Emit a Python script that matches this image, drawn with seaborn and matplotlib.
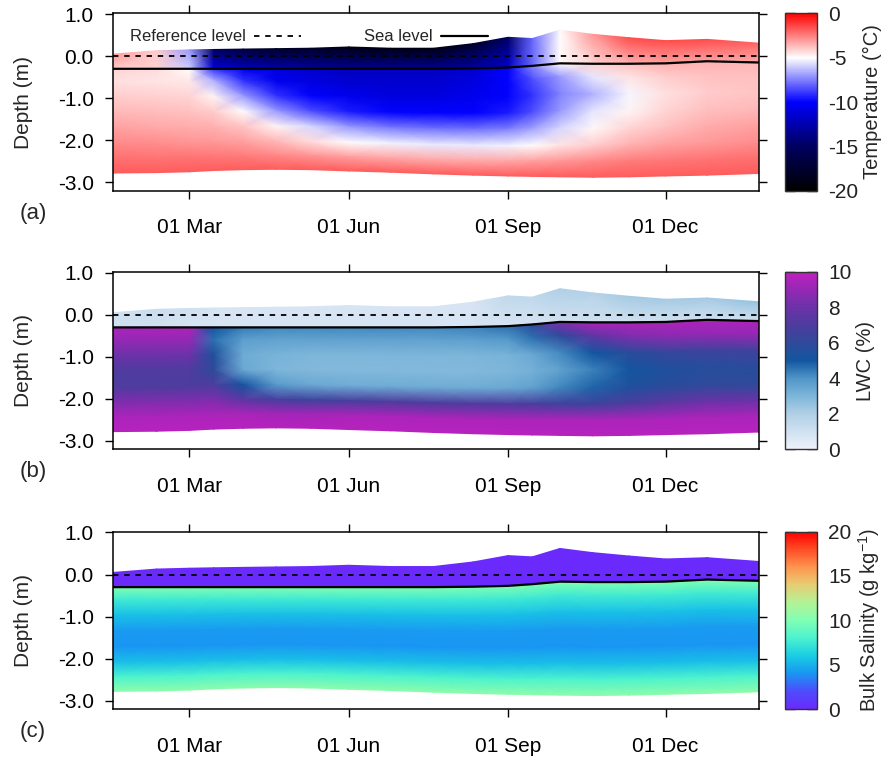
import numpy as np
import pandas as pd
import matplotlib
matplotlib.use('Agg')
import matplotlib.pyplot as plt
import matplotlib.dates as mdates
from matplotlib.colors import LinearSegmentedColormap
import seaborn as sns

# dates of the model columns
field_dates = ['2018-01-16', '2018-02-10', '2018-03-01', '2018-03-15', '2018-04-01',
               '2018-04-20', '2018-05-10', '2018-06-01', '2018-06-25', '2018-07-20',
               '2018-08-12', '2018-09-01', '2018-09-15', '2018-10-01', '2018-10-20',
               '2018-11-10', '2018-12-01', '2018-12-25', '2019-01-24']

# boundaries (m)
snow_top = [0.05, 0.13, 0.15, 0.16, 0.17, 0.18, 0.19, 0.22, 0.19, 0.19,
            0.30, 0.45, 0.42, 0.62, 0.52, 0.44, 0.37, 0.40, 0.31]
sea_level = [-0.30, -0.30, -0.30, -0.30, -0.30, -0.30, -0.30, -0.30, -0.30, -0.30,
             -0.29, -0.27, -0.23, -0.17, -0.18, -0.18, -0.17, -0.12, -0.15]
ice_bottom = [-2.78, -2.77, -2.75, -2.72, -2.70, -2.69, -2.70, -2.73, -2.76, -2.80,
              -2.83, -2.85, -2.86, -2.87, -2.88, -2.87, -2.85, -2.83, -2.79]
reference_level = 0.0

# relative position inside the ice (0 = sea level, 1 = ice bottom)
ice_levels = [0.0, 0.12, 0.27, 0.42, 0.57, 0.72, 0.86, 1.0]

# temperature (degC)
temp_snow_surface = [-3.0, -4.0, -7.0, -15, -17, -18, -18, -19, -19, -19,
                     -18, -15, -8, -5, -3, -1.5, -1.5, -1.5, -2.0]
temp_snow_base = [-4.0, -4.2, -6.0, -11, -12, -12.5, -13, -13.5, -13.5, -13.5,
                  -13, -11.5, -8, -5, -4.2, -3.5, -3.2, -3.2, -3.4]
temp_ice = [
    [-4.2, -4.3, -5.0, -9.0, -10.5, -11, -11.5, -12, -12, -12, -11.5, -10, -7.5, -5.0, -4.2, -3.8, -3.5, -3.5, -3.6],
    [-4.4, -4.5, -4.6, -6.5, -9.0, -10.5, -11, -11.5, -11.5, -11.5, -11, -10, -8.5, -7.0, -5.5, -4.5, -4.0, -3.8, -3.8],
    [-4.0, -4.1, -4.2, -4.8, -7.0, -9.0, -10, -10.5, -11, -11, -10.5, -10, -9.0, -7.5, -6.5, -5.2, -4.4, -4.0, -3.9],
    [-3.6, -3.7, -3.8, -4.0, -5.0, -7.0, -8.5, -9.5, -10, -10, -10, -9.5, -8.5, -7.0, -5.5, -4.8, -4.2, -3.8, -3.6],
    [-3.2, -3.3, -3.4, -3.5, -3.9, -4.8, -5.8, -7.0, -7.6, -7.8, -7.8, -7.5, -6.8, -5.8, -4.9, -4.2, -3.8, -3.4, -3.2],
    [-2.7, -2.8, -2.9, -3.0, -3.2, -3.6, -4.3, -5.0, -5.3, -5.4, -5.4, -5.3, -5.0, -4.5, -4.0, -3.5, -3.2, -3.0, -2.8],
    [-2.2, -2.3, -2.3, -2.4, -2.5, -2.7, -2.9, -3.2, -3.3, -3.4, -3.4, -3.3, -3.2, -3.0, -2.7, -2.5, -2.4, -2.3, -2.2],
    [-1.8, -1.8, -1.8, -1.8, -1.8, -1.8, -1.8, -1.8, -1.8, -1.8, -1.8, -1.8, -1.8, -1.8, -1.8, -1.8, -1.8, -1.8, -1.8],
]

# liquid water content (%)
lwc_snow_surface = [1.0, 1.2, 1.0, 0.8, 0.8, 0.8, 0.8, 0.8, 0.8, 0.8,
                    0.8, 1.5, 1.5, 2.0, 1.8, 2.2, 2.2, 2.2, 2.5]
lwc_snow_base = [1.0, 1.0, 0.8, 0.8, 0.8, 0.8, 0.8, 0.8, 0.8, 0.8,
                 0.8, 0.8, 0.8, 1.0, 1.0, 1.0, 1.0, 1.0, 1.0]
lwc_ice = [
    [9.5, 9.5, 9.5, 5.0, 4.4, 4.2, 4.2, 4.2, 4.2, 4.2, 4.3, 4.6, 6.0, 8.5, 9.5, 9.5, 9.5, 9.5, 9.5],
    [9.0, 9.0, 9.0, 4.6, 3.7, 3.6, 3.6, 3.6, 3.6, 3.6, 3.7, 3.9, 4.6, 6.0, 7.5, 8.5, 8.8, 9.0, 9.0],
    [8.0, 8.0, 8.0, 5.5, 3.3, 3.1, 3.0, 3.0, 3.0, 3.0, 3.0, 3.1, 3.4, 4.2, 5.0, 5.8, 6.2, 6.5, 6.5],
    [7.0, 7.0, 7.0, 6.0, 3.4, 3.0, 2.9, 2.9, 2.9, 2.9, 2.9, 3.0, 3.2, 3.6, 4.3, 5.0, 5.5, 5.7, 5.8],
    [7.0, 7.0, 7.0, 7.0, 5.2, 3.8, 3.4, 3.3, 3.3, 3.3, 3.3, 3.4, 3.6, 4.2, 4.8, 5.5, 5.8, 6.0, 6.0],
    [8.5, 8.5, 8.5, 8.5, 7.5, 6.8, 6.5, 6.8, 7.0, 7.0, 7.0, 7.0, 6.8, 6.5, 6.5, 7.0, 7.5, 8.0, 8.0],
    [9.5, 9.5, 9.5, 9.5, 9.5, 9.3, 9.3, 9.5, 9.5, 9.5, 9.5, 9.5, 9.5, 9.5, 9.5, 9.5, 9.5, 9.5, 9.5],
    [9.8, 9.8, 9.8, 9.8, 9.8, 9.8, 9.8, 9.8, 9.8, 9.8, 9.8, 9.8, 9.8, 9.8, 9.8, 9.8, 9.8, 9.8, 9.8],
]

# bulk salinity (g/kg), snow is fresh
salinity_snow = [0.0, 0.0]
salinity_ice_profile = [10.0, 7.5, 5.5, 4.2, 4.0, 5.5, 8.0, 10.5]

tick_dates = ['2018-03-01', '2018-06-01', '2018-09-01', '2018-12-01']
x_start, x_end = '2018-01-16', '2019-01-24'

sns.set_theme(style='ticks')
plt.rcParams['font.family'] = ['Liberation Sans', 'DejaVu Sans']
plt.rcParams['axes.unicode_minus'] = False
plt.rcParams['mathtext.default'] = 'regular'

temp_cmap = LinearSegmentedColormap.from_list(
    'temp', [(0, '#000000'), (0.25, '#000060'), (0.5, '#0000ff'), (0.75, '#ffffff'), (1, '#ff0000')])
lwc_cmap = LinearSegmentedColormap.from_list(
    'lwc', [(0, '#eef2fb'), (0.2, '#b0cfe6'), (0.3, '#7db6da'), (0.4, '#4f95c8'), (0.5, '#1256a0'),
            (0.6, '#2f4a9a'), (0.7, '#4d3c9e'), (0.8, '#6b32a8'), (0.9, '#9428b4'), (1, '#c020c0')])
rb = plt.get_cmap('rainbow')
sal_cmap = LinearSegmentedColormap.from_list(
    'sal', [(0, '#6a2afc')] + [(k / 10, rb(k / 10)) for k in range(1, 11)])

t = mdates.date2num(pd.to_datetime(field_dates))
sea = np.array(sea_level)
bot = np.array(ice_bottom)
sig = np.array(ice_levels)
X_ice = np.tile(t, (len(sig), 1))
Y_ice = sea[None, :] + sig[:, None] * (bot - sea)[None, :]
X_snow = np.tile(t, (2, 1))
Y_snow = np.vstack([sea, np.array(snow_top)])

panels = [
    ('(a)', np.vstack([temp_snow_base, temp_snow_surface]), np.array(temp_ice),
     temp_cmap, -20, 0, [0, -5, -10, -15, -20], 'Temperature (°C)'),
    ('(b)', np.vstack([lwc_snow_base, lwc_snow_surface]), np.array(lwc_ice),
     lwc_cmap, 0, 10, [0, 2, 4, 6, 8, 10], 'LWC (%)'),
    ('(c)', np.tile(np.array(salinity_snow)[:, None], (1, len(t))),
     np.tile(np.array(salinity_ice_profile)[:, None], (1, len(t))),
     sal_cmap, 0, 20, [0, 5, 10, 15, 20], 'Bulk Salinity (g kg$^{-1}$)'),
]

fig = plt.figure(figsize=(8.83, 7.57), dpi=100)
ax_bottoms = [0.7481, 0.4065, 0.0634]
ax_h = 0.2343

for i, (tag, snow_vals, ice_vals, cmap, vmin, vmax, cticks, clabel) in enumerate(panels):
    ax = fig.add_axes([0.1283, ax_bottoms[i], 0.7313, ax_h])
    cax = fig.add_axes([0.8887, ax_bottoms[i], 0.0369, ax_h])

    ax.pcolormesh(X_snow, Y_snow, snow_vals, cmap=cmap, vmin=vmin, vmax=vmax,
                  shading='gouraud', rasterized=True)
    mesh = ax.pcolormesh(X_ice, Y_ice, ice_vals, cmap=cmap, vmin=vmin, vmax=vmax,
                         shading='gouraud', rasterized=True)

    ax.axhline(reference_level, color='black', lw=1.3, ls=(0, (3, 3.2)),
               label='Reference level', zorder=3)
    if i == 0:
        sns.lineplot(x=t, y=sea, color='black', lw=1.6, label='Sea level', ax=ax, zorder=4)
        ax.legend(ncol=2, markerfirst=False, frameon=False, fontsize=12,
                  loc='upper left', bbox_to_anchor=(0.008, 0.975), borderpad=0.2,
                  handlelength=2.8, columnspacing=3.8, handletextpad=0.5)
    else:
        sns.lineplot(x=t, y=sea, color='black', lw=1.6, ax=ax, zorder=4, legend=False)

    ax.set_xlim(mdates.date2num(pd.Timestamp(x_start)), mdates.date2num(pd.Timestamp(x_end)))
    ax.set_ylim(-3.2, 1.02)
    ax.set_yticks([1, 0, -1, -2, -3])
    ax.yaxis.set_major_formatter(plt.FormatStrFormatter('%.1f'))
    ax.set_xticks(mdates.date2num(pd.to_datetime(tick_dates)))
    ax.xaxis.set_major_formatter(mdates.DateFormatter('%d %b'))
    ax.set_ylabel('Depth (m)', fontsize=15, labelpad=18)
    ax.set_xlabel('')
    ax.tick_params(axis='both', direction='out', length=6, width=1, colors='black',
                   labelsize=15, top=True, right=True)
    ax.tick_params(axis='x', pad=14)
    ax.tick_params(axis='y', pad=8)
    for s in ax.spines.values():
        s.set_color('black')
        s.set_linewidth(1.1)

    cb = fig.colorbar(mesh, cax=cax, ticks=cticks)
    cb.outline.set_edgecolor('#333333')
    cb.outline.set_linewidth(1.0)
    cax.yaxis.set_ticks_position('both')
    cax.tick_params(direction='in', length=7, width=1, colors='#222222',
                    labelleft=False, labelright=True, labelsize=15, pad=8)
    cax.set_yticklabels([str(v) for v in cticks])
    cb.set_label(clabel, fontsize=14.5, labelpad=3)

    fig.text(0.022, ax_bottoms[i] - 0.03, tag, fontsize=16, va='center', ha='left')

fig.savefig('out.png', dpi=100)
